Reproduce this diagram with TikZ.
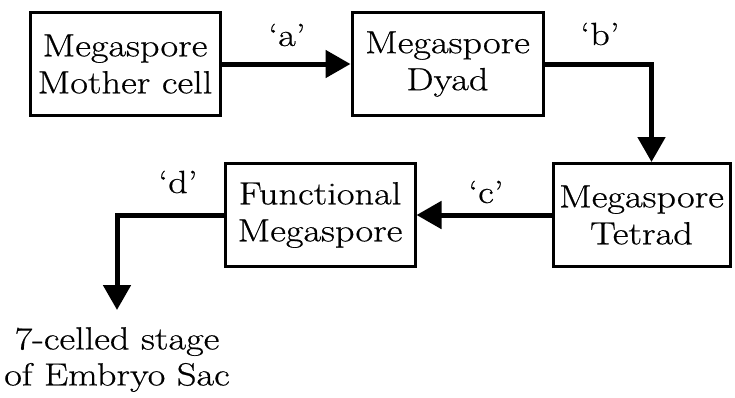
\documentclass[tikz,border=0pt]{standalone}
\usepackage{fontspec}
\setmainfont{Latin Modern Roman}[FakeStretch=1.2,FakeBold=0.6]
\usetikzlibrary{arrows.meta}
\begin{document}
\begin{tikzpicture}[x=1pt,y=1pt,
  box/.style={draw,line width=3pt,minimum width=#1,minimum height=103pt,align=center,inner sep=0pt,
    font=\fontsize{32}{37}\selectfont},
  lbl/.style={font=\fontsize{32}{36}\selectfont},
  conn/.style={line width=5pt,-{Triangle[length=25pt,width=27pt]}}]
\useasboundingbox (0,0) rectangle (735,-397);
\node[box=190pt] (b1) at (125,-64) {Megaspore\\Mother cell};
\node[box=191pt] (b2) at (447.5,-64) {Megaspore\\Dyad};
\node[box=177pt] (t) at (641.5,-215) {Megaspore\\Tetrad};
\node[box=190pt] (f) at (320,-215) {Functional\\Megaspore};
\coordinate (dtip) at (117,-310);
\node[lbl,align=center,anchor=north,inner sep=0pt] (txt) at (117,-327) {7-celled stage\\of Embryo Sac};
\node[lbl] (la) at (287,-35) {‘a’};
\node[lbl] (lb) at (600,-34) {‘b’};
\node[lbl] (lc) at (486,-192) {‘c’};
\node[lbl] (ld) at (178,-182) {‘d’};
\draw[conn] (b1.east) -- (b2.west);
\draw[conn] (b2.east) -| ([xshift=10pt]t.north);
\draw[conn] (t.west) -- (f.east);
\draw[conn] (f.west) -| (dtip);
\end{tikzpicture}
\end{document}
